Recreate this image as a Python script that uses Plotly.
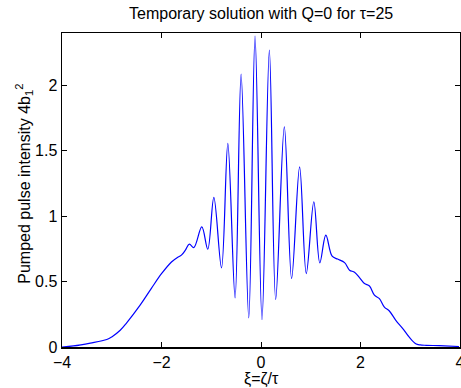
import plotly.graph_objects as go

xi = [-4.0, -3.77, -3.43, -3.10, -3.00, -2.83, -2.70, -2.43, -2.20, -2.00, -1.80,
      -1.68, -1.60, -1.52, -1.44, -1.35, -1.19, -1.07, -0.948, -0.794, -0.667, -0.521,
      -0.40, -0.246, -0.12, 0.02, 0.168, 0.295, 0.469, 0.615, 0.776, 0.91, 1.062, 1.182,
      1.303, 1.43, 1.54, 1.68, 1.78, 1.88, 1.98, 2.08, 2.18, 2.28, 2.38, 2.48, 2.58, 2.71,
      2.85, 2.98, 3.11, 3.20, 3.32, 3.58, 3.98]
intensity = [0.0, 0.008, 0.030, 0.057, 0.077, 0.128, 0.185, 0.32, 0.45, 0.56, 0.650,
             0.685, 0.702, 0.74, 0.786, 0.760, 0.918, 0.747, 1.143, 0.605, 1.556, 0.375,
             2.086, 0.222, 2.377, 0.209, 2.27, 0.363, 1.683, 0.523, 1.377, 0.561, 1.11, 0.643,
             0.855, 0.694, 0.672, 0.645, 0.587, 0.572, 0.530, 0.485, 0.466, 0.396, 0.370, 0.305,
             0.275, 0.204, 0.141, 0.075, 0.025, 0.016, 0.013, 0.010, 0.004]

x_ticks = [-4, -2, 0, 2, 4]
x_tick_text = ["\u22124", "\u22122", "0", "2", "4"]
y_ticks = [0, 0.5, 1, 1.5, 2]
y_tick_text = ["0", "0.5", "1", "1.5", "2"]

font = "Liberation Sans, Arial, Helvetica, sans-serif"

fig = go.Figure()
fig.add_trace(go.Scatter(x=xi, y=intensity, mode="lines",
                         line=dict(color="#0000ff", width=1.2, shape="spline", smoothing=1.0),
                         showlegend=False, hoverinfo="skip"))

axis_common = dict(showgrid=False, zeroline=False, showline=True, linecolor="black",
                   linewidth=1.5, mirror="ticks", ticks="inside", ticklen=5,
                   tickcolor="black", tickwidth=1, automargin=False,
                   ticklabeloverflow="allow",
                   tickfont=dict(family=font, size=16, color="black"))

fig.update_layout(
    width=461, height=388,
    margin=dict(l=62, r=1, t=33, b=41),
    paper_bgcolor="white", plot_bgcolor="white",
    xaxis=dict(range=[-4, 4], tickvals=x_ticks, ticktext=x_tick_text, **axis_common),
    yaxis=dict(range=[0, 2.4], tickvals=y_ticks, ticktext=y_tick_text, **axis_common),
    annotations=[
        dict(text="Temporary solution with Q=0 for \u03c4=25", xref="paper", yref="paper",
             x=0.5, y=1, yshift=19.5, showarrow=False, xanchor="center", yanchor="middle",
             font=dict(family=font, size=16, color="black")),
        dict(text="\u03be=\u03b6/\u03c4", xref="paper", yref="paper",
             x=0.5, y=0, yshift=-32, showarrow=False, xanchor="center", yanchor="middle",
             font=dict(family=font, size=16, color="black")),
        dict(text="Pumped pulse intensity 4b<sub>1</sub><sup>2</sup>", xref="paper", yref="paper",
             x=0, xshift=-38, y=0.52, textangle=-90, showarrow=False,
             xanchor="center", yanchor="middle",
             font=dict(family=font, size=16, color="black")),
    ],
)

fig.write_html("out.html", config={"displayModeBar": False, "staticPlot": True},
               post_script="document.body.style.margin='0px';")
